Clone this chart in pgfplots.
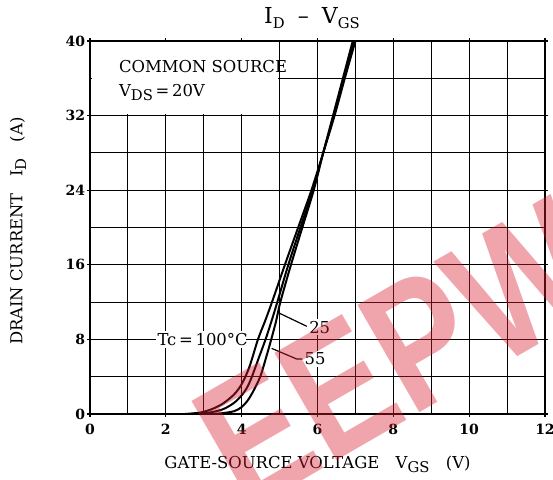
\documentclass[border=0pt]{standalone}
\usepackage{pgfplots}
\pgfplotsset{compat=1.18}
\usepackage{fontspec}
\setmainfont{DejaVu Serif}
\newfontfamily\wmfont{Liberation Sans}
\newcommand{\sub}[1]{\raisebox{-0.45ex}{\fontsize{7.4}{8}\selectfont #1}}
\begin{document}
\begin{tikzpicture}[x=1pt,y=1pt]
\useasboundingbox (0,0) rectangle (276.5,239.5);
\begin{axis}[at={(45pt,32.5pt)}, anchor=south west,
  scale only axis, width=227.5pt, height=186.5pt,
  xmin=0, xmax=12, ymin=0, ymax=40,
  xtick={0,2,...,12}, minor xtick={1,3,...,11},
  ytick={0,8,...,40}, minor ytick={4,12,...,36},
  grid=both,
  major grid style={black, line width=0.5pt},
  minor grid style={black, line width=0.5pt},
  axis line style={black, line width=1pt},
  tick align=outside, major tick length=1.5pt, minor tick length=0pt,
  tick style={black, line width=0.6pt},
  ticklabel style={font=\fontsize{7}{8}\selectfont\bfseries},
  yticklabel style={inner sep=0.8pt},
  /pgf/number format/assume math mode=true,
  clip=false,
  every axis plot/.append style={line width=1pt, black},
  font=\fontsize{8.2}{10}\selectfont,
]
% cover grid under the condition box
\fill[white] (axis cs:0.04,32.12) rectangle (axis cs:4.96,39.88);
\node[anchor=west] at (axis cs:0.58,37.3) {COMMON SOURCE};
\node[anchor=west] at (axis cs:0.58,34.5) {V\sub{DS}\,=\,20V};

% Tc = 100 C
\addplot[smooth] coordinates {
 (2.5,0) (2.9,0.15) (3.2,0.5) (3.5,1.1) (3.8,2.1) (4.0,3.2) (4.2,5.0)
 (4.43,8) (4.62,10) (4.8,12) (5.14,16) (5.49,20) (5.84,24) (6.15,28)
 (6.45,32) (6.72,36) (7.0,40)};
% Tc = 25 C
\addplot[smooth] coordinates {
 (2.7,0) (3.1,0.12) (3.5,0.5) (3.8,1.2) (4.0,2.0) (4.15,2.9) (4.27,4) (4.45,6)
 (4.63,8) (4.79,10) (4.94,12) (5.23,16) (5.55,20) (5.88,24) (6.15,28)
 (6.43,32) (6.69,36) (6.96,40)};
% Tc = -55 C
\addplot[smooth] coordinates {
 (2.9,0) (3.4,0.05) (3.8,0.3) (4.0,0.75) (4.15,1.4) (4.3,2.4) (4.49,4)
 (4.64,6) (4.78,8) (4.91,10) (5.02,12) (5.3,16) (5.6,20) (5.9,24)
 (6.15,28) (6.41,32) (6.67,36) (6.93,40)};

% curve labels
\node[fill=white, inner sep=1pt] at (axis cs:2.97,8) {Tc\,=\,100°C};
\draw[line width=0.6pt] (axis cs:4.12,8) -- (axis cs:4.43,8);
\draw[line width=0.6pt] (axis cs:5.0,10.8) -- (axis cs:5.72,9.4);
\node[anchor=west, fill=white, inner sep=1pt] at (axis cs:5.72,9.3) {25};
\draw[line width=0.6pt] (axis cs:4.79,7.04) -- (axis cs:5.45,5.9) -- (axis cs:5.6,5.9);
\node[anchor=west, fill=white, inner sep=1pt] at (axis cs:5.6,5.9) {55};

% title and axis labels
\node[font=\fontsize{11}{13}\selectfont] at ([xshift=-2.75pt, yshift=11.5pt]rel axis cs:0.5,1)
  {I\sub{D}\; -- \;V\sub{GS}};
\node at ([yshift=-25pt]rel axis cs:0.5,0) {GATE-SOURCE VOLTAGE\quad V\sub{GS}\quad (V)};
\node[rotate=90] at ([xshift=-36pt]rel axis cs:0,0.49) {DRAIN CURRENT\quad I\sub{D}\quad (A)};
\end{axis}
% watermark
\node[rotate=30, xscale=0.8, anchor=base west, text={rgb,255:red,215;green,30;blue,45}, opacity=0.4,
  font=\wmfont\bfseries\fontsize{90}{90}\selectfont, inner sep=0pt] at (122.6,-17.4) {EEPW};
\end{tikzpicture}
\end{document}
